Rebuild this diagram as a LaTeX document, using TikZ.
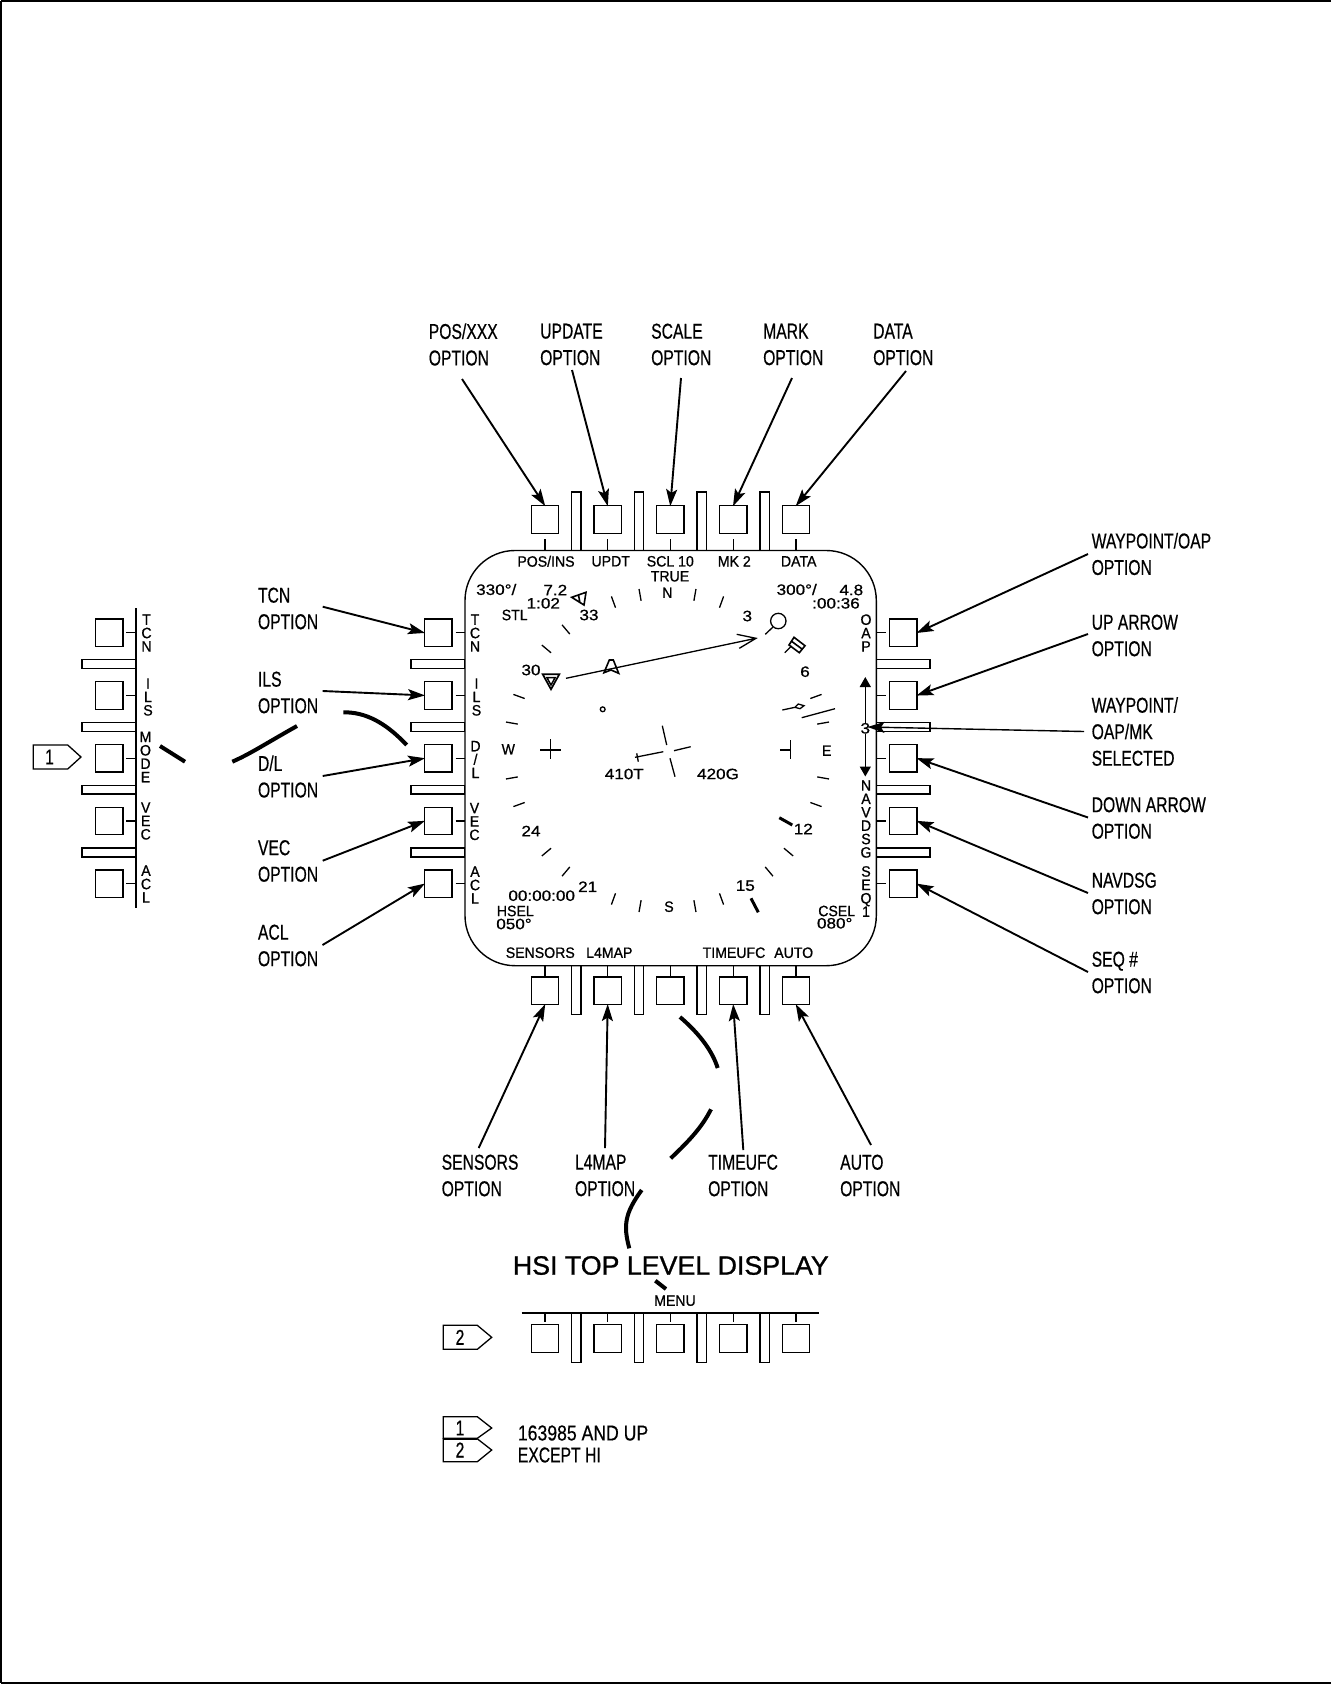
\documentclass[tikz,border=0pt]{standalone}
\usepackage{fontspec}
\setmainfont{Liberation Sans}
\newfontfamily\bigf[FakeStretch=0.73,FakeBold=0.5]{Liberation Sans}
\newfontfamily\legf[FakeStretch=0.82,FakeBold=0.5]{Liberation Sans}
\newfontfamily\smf[FakeStretch=0.94,FakeBold=0.8]{Liberation Sans}
\newfontfamily\numf[FakeStretch=1.14,FakeBold=0.8]{Liberation Sans}
\newfontfamily\titf[FakeStretch=1.01,FakeBold=1.0]{Liberation Sans}
\usetikzlibrary{arrows.meta}
\tikzset{
  ln/.style={line width=1.3pt,line join=miter},
  btn/.style={draw,line width=1.3pt,minimum size=27.5pt,inner sep=0pt,outer sep=0pt},
  bar/.style={draw,line width=1.3pt,fill=white},
  arr/.style={line width=1.9pt,-{Stealth[length=17pt,width=11pt,inset=3.5pt]},shorten >=-0.5pt},
  scrib/.style={line width=4pt},
  biglab/.style={font=\bigf\fontsize{21.5}{26.5}\selectfont,align=left,anchor=west,inner sep=0pt},
  leglab/.style={font=\legf\fontsize{21.5}{22}\selectfont,align=left,anchor=west,inner sep=0pt},
  sml/.style={font=\smf\fontsize{15}{15}\selectfont,inner sep=0pt},
  num/.style={font=\numf\fontsize{15}{15}\selectfont,inner sep=0pt},
  vlab/.style={font=\smf\fontsize{15}{13.4}\selectfont,align=center,inner sep=0pt},
  tagtxt/.style={font=\bigf\fontsize{21.5}{24}\selectfont,inner sep=0pt}
}
\begin{document}
\begin{tikzpicture}[x=1pt,y=-1pt]
\useasboundingbox (0,0) rectangle (1331,1684);
\draw[line width=2pt] (0.8,0.8) -- (0.8,1683.2) (0.8,0.8) -- (1331,0.8) (0.8,1683.2) -- (1331,1683.2);
% bars top and bottom
\foreach \x in {576.3,639,701.7,764.7}{
  \draw[bar] (\x-4.7,492) rectangle (\x+4.7,550.5);
  \draw[bar] (\x-4.7,965.7) rectangle (\x+4.7,1014.7);
  \draw[bar] (\x-4.7,1312.7) rectangle (\x+4.7,1362.7);
}
% bars left and right, mini panel
\foreach \y in {664.2,727,789.7,852.5}{
  \draw[bar] (411,\y-4.4) rectangle (465,\y+4.4);
  \draw[bar] (876.3,\y-4.4) rectangle (930,\y+4.4);
  \draw[bar] (82,\y-4.4) rectangle (136,\y+4.4);
}
% screen
\node[draw,line width=1.4pt,rounded corners=50pt,minimum width=411.3pt,minimum height=415.2pt,inner sep=0pt,fill=white] (screen) at (670.65,758.1) {};
% buttons
\foreach \n/\x in {1/545,2/607.7,3/670.3,4/733.2,5/796}{
  \node[btn] (t\n) at (\x,519.5) {};
  \node[btn] (b\n) at (\x,990.8) {};
  \node[btn] (c\n) at (\x,1338.5) {};
  \draw[ln] (\x,539.3) -- (\x,550.5);
  \draw[ln] (\x,965.7) -- (\x,977);
  \draw[ln] (\x,1312.7) -- (\x,1321.7);
}
\foreach \n/\y in {1/632.8,2/695.4,3/758.3,4/821,5/883.8}{
  \node[btn] (l\n) at (438.3,\y) {};
  \node[btn] (r\n) at (903.2,\y) {};
  \node[btn] (m\n) at (109.3,\y) {};
  \draw[ln] (455.7,\y) -- (465,\y);
  \draw[ln] (876.3,\y) -- (886,\y);
  \draw[ln] (126,\y) -- (136,\y);
}
% mini panel and lower panel rails
\draw[line width=1.6pt] (136,608) -- (136,908);
\draw[line width=1.6pt] (521.7,1312.7) -- (819.3,1312.7);
% vertical labels mini
\node[vlab] (mTCN) at (146.5,633) {T\\C\\N};
\node[vlab] (mILS) at (148,697) {I\\L\\S};
\node[vlab] (mMOD) at (145.5,757) {M\\O\\D\\E};
\node[vlab] (mVEC) at (145.7,821) {V\\E\\C};
\node[vlab] (mACL) at (146,884) {A\\C\\L};
% vertical labels screen left
\node[vlab] (sTCN) at (475,633) {T\\C\\N};
\node[vlab] (sILS) at (476.5,697) {I\\L\\S};
\node[vlab] (sDL) at (475.5,759.5) {D\\/\\L};
\node[vlab] (sVEC) at (474.5,821.5) {V\\E\\C};
\node[vlab] (sACL) at (475,885) {A\\C\\L};
% vertical labels screen right
\node[vlab] (sOAP) at (866,633) {O\\A\\P};
\node[vlab] (sNAV) at (866,819) {N\\A\\V\\D\\S\\G};
\node[vlab] (sSEQ) at (866,891.5) {S\\E\\Q\\1};
% up/down indicator
\node[num] (sThree) at (865.3,728.3) {3};
\coordinate (upTip) at (865.3,677);
\coordinate (dnTip) at (865.3,776.5);
\draw[line width=1.4pt,-{Triangle[length=10pt,width=11pt]}] (sThree.north) -- (upTip);
\draw[line width=1.4pt,-{Triangle[length=10pt,width=11pt]}] (sThree.south) -- (dnTip);
% small screen text
\node[sml] (tPOS) at (546,561.3) {POS/INS};
\node[sml] (tUPD) at (610.7,561.3) {UPDT};
\node[sml] (tSCL) at (670.3,561.3) {SCL 10};
\node[sml] (tMK) at (734.3,561.3) {MK 2};
\node[sml] (tDATA) at (798.7,561.3) {DATA};
\node[sml] (tTRUE) at (670,576.3) {TRUE};
\node[sml] (tN) at (667.3,592.7) {N};
\node[num,anchor=west] (tL1) at (476,589.5) {330°/};
\node[num] (tL2) at (555.3,590) {7.2};
\node[num] (tL3) at (543.3,603.3) {1:02};
\node[sml] (tSTL) at (514.7,615) {STL};
\node[num] (g33) at (589,615) {33};
\node[num] (g3) at (747.3,616) {3};
\node[num] (tR1) at (796.7,589.5) {300°/};
\node[num] (tR2) at (851.3,590) {4.8};
\node[num] (tR3) at (836,603.3) {:00:36};
\node[num] (g6) at (805,671.7) {6};
\node[num] (g30) at (531,670) {30};
\node[sml] (tW) at (508.3,749.3) {W};
\node[sml] (tE) at (826.7,750.7) {E};
\node[num] (g410) at (624.3,774) {410T};
\node[num] (g420) at (718,774) {420G};
\node[num] (g24) at (531,831) {24};
\node[num] (g12) at (803.3,829) {12};
\node[num] (g21) at (587.7,886.7) {21};
\node[num] (g15) at (745.3,885.7) {15};
\node[sml] (tS) at (669,906.7) {S};
\node[num] (tCLK) at (541.7,895.7) {00:00:00};
\node[sml] (tHS) at (515.3,911) {HSEL};
\node[num] (tHV) at (514,924) {050°};
\node[sml] (tCS) at (836.7,911) {CSEL};
\node[num] (tCV) at (834.7,923.3) {080°};
\node[sml] (bSEN) at (540.3,952.7) {SENSORS};
\node[sml] (bL4) at (609.3,952.7) {L4MAP};
\node[sml] (bTIM) at (734,952.7) {TIMEUFC};
\node[sml] (bAUT) at (793.7,952.7) {AUTO};
\node[sml] (cMENU) at (675,1300.7) {MENU};
% compass ticks
\foreach \a in {10,20,70,80,100,110,130,140,160,170,190,200,220,230,250,260,280,290,310,320,340,350}{
  \draw[ln] ({667.5+164*sin(\a)},{750.5-164*cos(\a)}) -- ({667.5+152*sin(\a)},{750.5-152*cos(\a)});
}
\draw[line width=3pt] (779.3,817.7) -- (792.3,825);
\draw[line width=3pt] (751,898.3) -- (758.3,912.3);
% symbols
\draw[ln,line width=1.6pt] (571.7,597.3) -- (586,592.3) -- (584,605) -- cycle (578.5,595) -- (580,603);
\draw[ln,line width=1.7pt] (542.7,674.3) -- (559.3,674.3) -- (551,689.3) -- cycle;
\draw[ln,line width=1.5pt] (546.8,677.5) -- (555.2,677.5) -- (551,685) -- cycle;
\coordinate (brgA) at (566,678.3);
\coordinate (brgB) at (756,638.3);
\draw[ln] (brgA) -- (brgB) (736.7,634.3) -- (brgB) -- (739.3,648.3);
\draw[ln,line width=1.6pt] (609.3,660) -- (613.3,660) -- (618.7,673.3) -- (611,670) -- (604,672.7) -- cycle;
\draw[ln] (778.3,621) circle (7.7);
\draw[ln] (773,627) -- (765.3,634.3);
\draw[ln,line width=1.6pt] (789,645) -- (794,637.3) -- (805,645.7) -- (799.3,652.7) -- cycle (791.5,641.2) -- (802.2,649.2);
\draw[ln] (791.5,646) -- (784.7,652.7);
\draw[ln] (602.7,709.3) circle (2.4);
\draw[ln] (782.3,710) -- (795,707.3) -- (798.3,704) -- (804,705.7) -- (800,708.7) -- (795,707.3);
\draw[ln] (801.7,717.7) -- (835,708.7);
\draw[ln] (540,750) -- (560.7,750) (550.3,739.3) -- (550.3,759.3);
\draw[ln] (780,750) -- (790.7,750) (790.3,740) -- (790.3,759.3);
\draw[ln] (662.3,725.7) -- (666.7,745) (670,758.3) -- (675,776.7);
\draw[ln] (690.7,746.7) -- (674,750.7) (663.3,751.7) -- (635,757.3) (636.7,753.3) -- (638.3,761.7);
% big labels
\node[biglab] (oPOS) at (428.6,344.5) {POS/XXX\\OPTION};
\node[biglab] (oUPD) at (540,344.5) {UPDATE\\OPTION};
\node[biglab] (oSCA) at (651,344.5) {SCALE\\OPTION};
\node[biglab] (oMAR) at (763,344.5) {MARK\\OPTION};
\node[biglab] (oDAT) at (873,344.5) {DATA\\OPTION};
\node[biglab] (oWAY) at (1091.5,554) {WAYPOINT/OAP\\OPTION};
\node[biglab] (oUP) at (1091.5,635.5) {UP ARROW\\OPTION};
\node[biglab] (oSEL) at (1091.5,731.5) {WAYPOINT/\\OAP/MK\\SELECTED};
\node[biglab] (oDN) at (1091.5,818) {DOWN ARROW\\OPTION};
\node[biglab] (oNAV) at (1091.5,893.5) {NAVDSG\\OPTION};
\node[biglab] (oSEQ) at (1091.5,972.5) {SEQ \#\\OPTION};
\node[biglab] (oTCN) at (257.8,608.5) {TCN\\OPTION};
\node[biglab] (oILS) at (257.8,692.5) {ILS\\OPTION};
\node[biglab] (oDL) at (257.8,776.5) {D/L\\OPTION};
\node[biglab] (oVEC) at (257.8,861) {VEC\\OPTION};
\node[biglab] (oACL) at (257.8,945.5) {ACL\\OPTION};
\node[biglab] (oSEN) at (441.5,1175.5) {SENSORS\\OPTION};
\node[biglab] (oL4) at (574.8,1175.5) {L4MAP\\OPTION};
\node[biglab] (oTIM) at (708,1175.5) {TIMEUFC\\OPTION};
\node[biglab] (oAUT) at (840,1175.5) {AUTO\\OPTION};
% arrow tails
\coordinate (aPOS) at (462,379);
\coordinate (aUPD) at (572,370);
\coordinate (aSCA) at (681,378);
\coordinate (aMAR) at (792,378);
\coordinate (aDAT) at (906,371);
\coordinate (aWAY) at (1088,554);
\coordinate (aUP) at (1088,634);
\coordinate (aSEL) at (1084,731.5);
\coordinate (aDN) at (1088,817.5);
\coordinate (aNAV) at (1088,893);
\coordinate (aSEQ) at (1088,972);
\coordinate (aTCN) at (322.7,606.7);
\coordinate (aILS) at (322.7,691);
\coordinate (aDL) at (322.7,776);
\coordinate (aVEC) at (322.7,860.7);
\coordinate (aACL) at (322.5,945);
\coordinate (aSEN) at (478.7,1148);
\coordinate (aL4) at (605,1148);
\coordinate (aTIM) at (743.3,1150);
\coordinate (aAUT) at (871,1145);
\coordinate (selTip) at (868,727);
% arrows
\draw[arr] (aPOS) -- (t1.north);
\draw[arr] (aUPD) -- (t2.north);
\draw[arr] (aSCA) -- (t3.north);
\draw[arr] (aMAR) -- (t4.north);
\draw[arr] (aDAT) -- (t5.north);
\draw[arr] (aWAY) -- (r1.east);
\draw[arr] (aUP) -- (r2.east);
\draw[arr,line width=1.4pt] (aSEL) -- (selTip);
\draw[arr] (aDN) -- (r3.east);
\draw[arr] (aNAV) -- (r4.east);
\draw[arr] (aSEQ) -- (r5.east);
\draw[arr] (aTCN) -- (l1.west);
\draw[arr] (aILS) -- (l2.west);
\draw[arr] (aDL) -- (l3.west);
\draw[arr] (aVEC) -- (l4.west);
\draw[arr] (aACL) -- (l5.west);
\draw[arr] (aSEN) -- (b1.south);
\draw[arr] (aL4) -- (b2.south);
\draw[arr] (aTIM) -- (b4.south);
\draw[arr] (aAUT) -- (b5.south);
% heavy strokes
\draw[scrib] (160,746) -- (185,761.7);
\draw[scrib] (232.3,761.7) .. controls (250,754) and (265,744) .. (297,726);
\draw[scrib] (343.3,712.3) .. controls (365,712) and (385,722) .. (406.7,745);
\draw[scrib] (680,1017) .. controls (695,1030) and (711,1047) .. (717.7,1068);
\draw[scrib] (711,1109.3) .. controls (702,1127) and (690,1140) .. (670.7,1158.3);
\draw[scrib] (641.7,1190) .. controls (625,1213) and (623,1225) .. (629.3,1248.3);
\draw[scrib] (655.3,1280.7) -- (666,1289);
% title
\node[font=\titf\fontsize{26.5}{30}\selectfont,inner sep=0pt] (title) at (670.8,1265.5) {HSI TOP LEVEL DISPLAY};
% tags
\draw[ln] (33.3,745) -- (67.7,745) -- (81,757) -- (67.7,769) -- (33.3,769) -- cycle;
\node[tagtxt] (tag1) at (49.5,757) {1};
\draw[ln] (443.3,1325.3) -- (477.3,1325.3) -- (491.7,1337.3) -- (477.3,1349.3) -- (443.3,1349.3) -- cycle;
\node[tagtxt] (tag2) at (460,1337.3) {2};
\draw[ln] (443.3,1416.7) -- (477.3,1416.7) -- (491.7,1428) -- (477.3,1438.3) -- (443.3,1438.3) -- cycle;
\node[tagtxt] (leg1) at (460,1428) {1};
\draw[ln] (443.3,1438.8) -- (477.3,1438.8) -- (491.7,1450) -- (477.3,1461.7) -- (443.3,1461.7) -- cycle;
\node[tagtxt] (leg2) at (460,1450) {2};
\draw[line width=2pt] (443.3,1438.5) -- (477.3,1438.5);
\node[leglab] (legendA) at (517.7,1433) {163985 AND UP};
\node[biglab] (legendB) at (517.7,1455) {EXCEPT HI};
\end{tikzpicture}
\end{document}
